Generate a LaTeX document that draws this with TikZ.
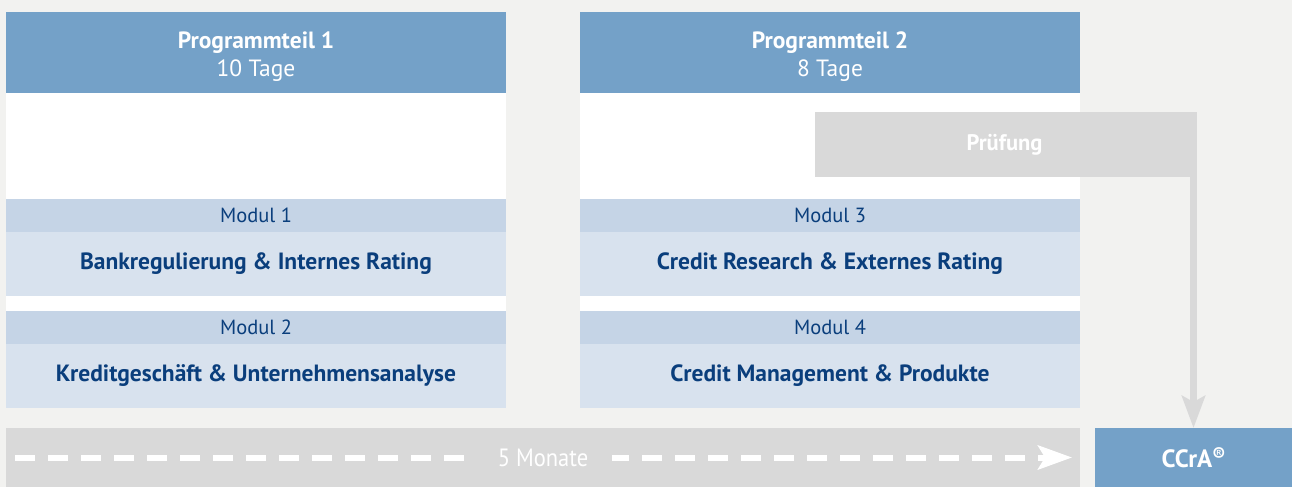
\documentclass[tikz,border=0pt]{standalone}
\usepackage{fontspec}
\setmainfont{PT Sans}
\newfontfamily\narrowfont[FakeStretch=0.9]{PT Sans}
\usetikzlibrary{positioning,arrows.meta}

\definecolor{bgcol}{HTML}{F2F2F0}
\definecolor{headblue}{HTML}{74A1C8}
\definecolor{modstrip}{HTML}{C5D4E6}
\definecolor{modband}{HTML}{D8E2EE}
\definecolor{darkblue}{HTML}{0A3E7C}
\definecolor{greybox}{HTML}{D9D9D9}

\tikzset{
  box/.style={inner sep=0pt, outer sep=0pt, minimum width=500pt, anchor=north west},
  headbox/.style={box, fill=headblue, minimum height=81pt, text=white, align=center,
    text height=53pt, font=\fontsize{23.5}{28}\selectfont},
  modhead/.style={box, fill=modstrip, minimum height=33pt, text=darkblue,
    font=\fontsize{20.5}{22}\selectfont},
  modtitle/.style={box, fill=modband, minimum height=64pt, text=darkblue,
    font=\fontsize{23.5}{26}\selectfont\bfseries},
  greyfill/.style={inner sep=0pt, outer sep=0pt, fill=greybox, anchor=north west},
  arrowline/.style={draw=greybox, line width=7pt, -{Stealth[length=32pt, width=23pt, inset=6pt]}},
  dashline/.style={draw=white, line width=6pt, dash pattern=on 20pt off 13pt,
    -{Stealth[length=34pt, width=24pt, inset=7pt]}}
}

\begin{document}
\begin{tikzpicture}[x=1pt, y=-1pt]
  \fill[bgcol] (0,0) rectangle (1292,487);
  \useasboundingbox (0,0) rectangle (1292,487);

  % white panels
  \fill[white] (6,12) rectangle (506,408);
  \fill[white] (580,12) rectangle (1080,408);

  % Programmteil 1
  \node[headbox] (head1) at (6,12) {\textbf{Programmteil 1}\\10 Tage};
  \node[modhead, below=106pt of head1] (m1) {Modul 1};
  \node[modtitle, below=0pt of m1] (t1) {Bankregulierung \& Internes Rating};
  \node[modhead, below=15pt of t1] (m2) {Modul 2};
  \node[modtitle, below=0pt of m2] (t2) {Kreditgeschäft \& Unternehmensanalyse};

  % Programmteil 2
  \node[headbox] (head2) at (580,12) {\textbf{Programmteil 2}\\8 Tage};
  \node[modhead, below=106pt of head2] (m3) {Modul 3};
  \node[modtitle, below=0pt of m3] (t3) {Credit Research \& Externes Rating};
  \node[modhead, below=15pt of t3] (m4) {Modul 4};
  \node[modtitle, below=0pt of m4] (t4) {Credit Management \& Produkte};

  % Pruefung und Abschluss
  \node[greyfill, minimum width=379pt, minimum height=65pt, text=white,
    font=\fontsize{22.5}{24}\selectfont\bfseries] (pruef) at (815,112) {Prüfung};
  \node[inner sep=0pt, outer sep=0pt, fill=headblue, anchor=north west,
    minimum width=197pt, minimum height=59pt, text=white,
    font=\fontsize{25}{26}\selectfont\bfseries] (ccra) at (1095,428)
    {CCrA\raisebox{0.45ex}{\fontsize{19}{20}\selectfont ®}};
  \draw[arrowline] (pruef.north east -| ccra.north) -- (ccra.north);

  % Zeitleiste
  \node[greyfill, minimum width=1074pt, minimum height=59pt] (bar) at (6,428) {};
  \draw[dashline] ([xshift=9pt]bar.west) -- ([xshift=-8pt]bar.east);
  \node[fill=greybox, inner sep=0pt, minimum width=137pt, minimum height=20pt,
    text=white, font=\fontsize{25}{26}\narrowfont] (months) at ([xshift=537pt]bar.west) {5 Monate};
\end{tikzpicture}
\end{document}
